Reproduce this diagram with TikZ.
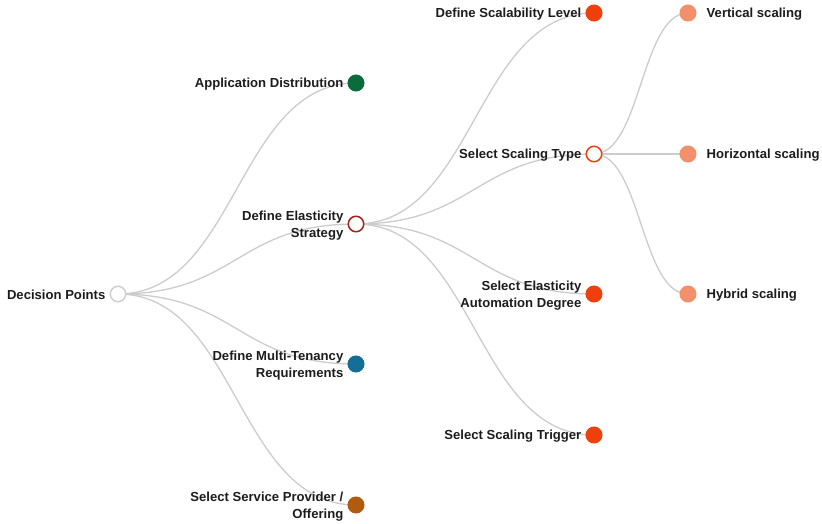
\documentclass[tikz,border=0pt]{standalone}
\usepackage{fontspec}
\setmainfont{Liberation Sans}
\usetikzlibrary{positioning,backgrounds,calc}

\definecolor{linkgrey}{HTML}{CCCCCC}
\definecolor{labeltext}{HTML}{1C1C1C}
\definecolor{rootring}{HTML}{CFCFCF}
\definecolor{distgreen}{HTML}{0B6B3C}
\definecolor{elastred}{HTML}{A3231C}
\definecolor{tenantblue}{HTML}{146E96}
\definecolor{provbrown}{HTML}{B05B0F}
\definecolor{scaleorange}{HTML}{EE400C}
\definecolor{leafsalmon}{HTML}{F48F6B}

\tikzset{
  dot/.style={circle, minimum size=15.5pt, inner sep=0pt, line width=1.5pt},
  lbl/.style={font=\fontsize{13.1}{17}\selectfont\bfseries, text=labeltext, inner sep=0pt, align=right, yshift=-1.2pt},
  leaflbl/.style={lbl, align=left},
  % horizontal diagonal between two node centres
  diag/.style={draw=linkgrey, line width=1.3pt,
    to path={let \p1=(\tikztostart), \p2=(\tikztotarget) in
      .. controls ({(\x1+\x2)/2},\y1) and ({(\x1+\x2)/2},\y2) .. (\tikztotarget)}},
}

\begin{document}
\begin{tikzpicture}[x=1pt,y=-1pt]
\useasboundingbox (0,0) rectangle (822,524);

% tree nodes
\node[dot, draw=rootring, fill=white] (root) at (118,294) {};
\node[dot, draw=distgreen, fill=distgreen] (dist) at (356,83) {};
\node[dot, draw=elastred, fill=white] (elast) at (356,224) {};
\node[dot, draw=tenantblue, fill=tenantblue] (tenant) at (356,364) {};
\node[dot, draw=provbrown, fill=provbrown] (prov) at (356,505) {};
\node[dot, draw=scaleorange, fill=scaleorange] (level) at (594,13) {};
\node[dot, draw=scaleorange, fill=white] (stype) at (594,154) {};
\node[dot, draw=scaleorange, fill=scaleorange] (autom) at (594,294) {};
\node[dot, draw=scaleorange, fill=scaleorange] (trigger) at (594,435) {};
\node[dot, draw=leafsalmon, fill=leafsalmon] (vert) at (688,13) {};
\node[dot, draw=leafsalmon, fill=leafsalmon] (horiz) at (688,154) {};
\node[dot, draw=leafsalmon, fill=leafsalmon] (hybrid) at (688,294) {};

% labels
\node[lbl, left=4pt of root] (rootlbl) {Decision Points};
\node[lbl, left=4pt of dist] (distlbl) {Application Distribution};
\node[lbl, left=4pt of elast] (elastlbl) {Define Elasticity\\Strategy};
\node[lbl, left=4pt of tenant] (tenantlbl) {Define Multi-Tenancy\\Requirements};
\node[lbl, left=4pt of prov] (provlbl) {Select Service Provider /\\Offering};
\node[lbl, left=4pt of level] (levellbl) {Define Scalability Level};
\node[lbl, left=4pt of stype] (stypelbl) {Select Scaling Type};
\node[lbl, left=4pt of autom] (automlbl) {Select Elasticity\\Automation Degree};
\node[lbl, left=4pt of trigger] (triggerlbl) {Select Scaling Trigger};
\node[leaflbl, right=10pt of vert] (vertlbl) {Vertical scaling};
\node[leaflbl, right=10pt of horiz] (horizlbl) {Horizontal scaling};
\node[leaflbl, right=10pt of hybrid] (hybridlbl) {Hybrid scaling};

% links behind everything
\begin{scope}[on background layer]
\foreach \a/\b in {root/dist, root/elast, root/tenant, root/prov,
                   elast/level, elast/stype, elast/autom, elast/trigger,
                   stype/vert, stype/horiz, stype/hybrid}
  \draw[diag] (\a.center) to (\b.center);
\end{scope}
\end{tikzpicture}
\end{document}
